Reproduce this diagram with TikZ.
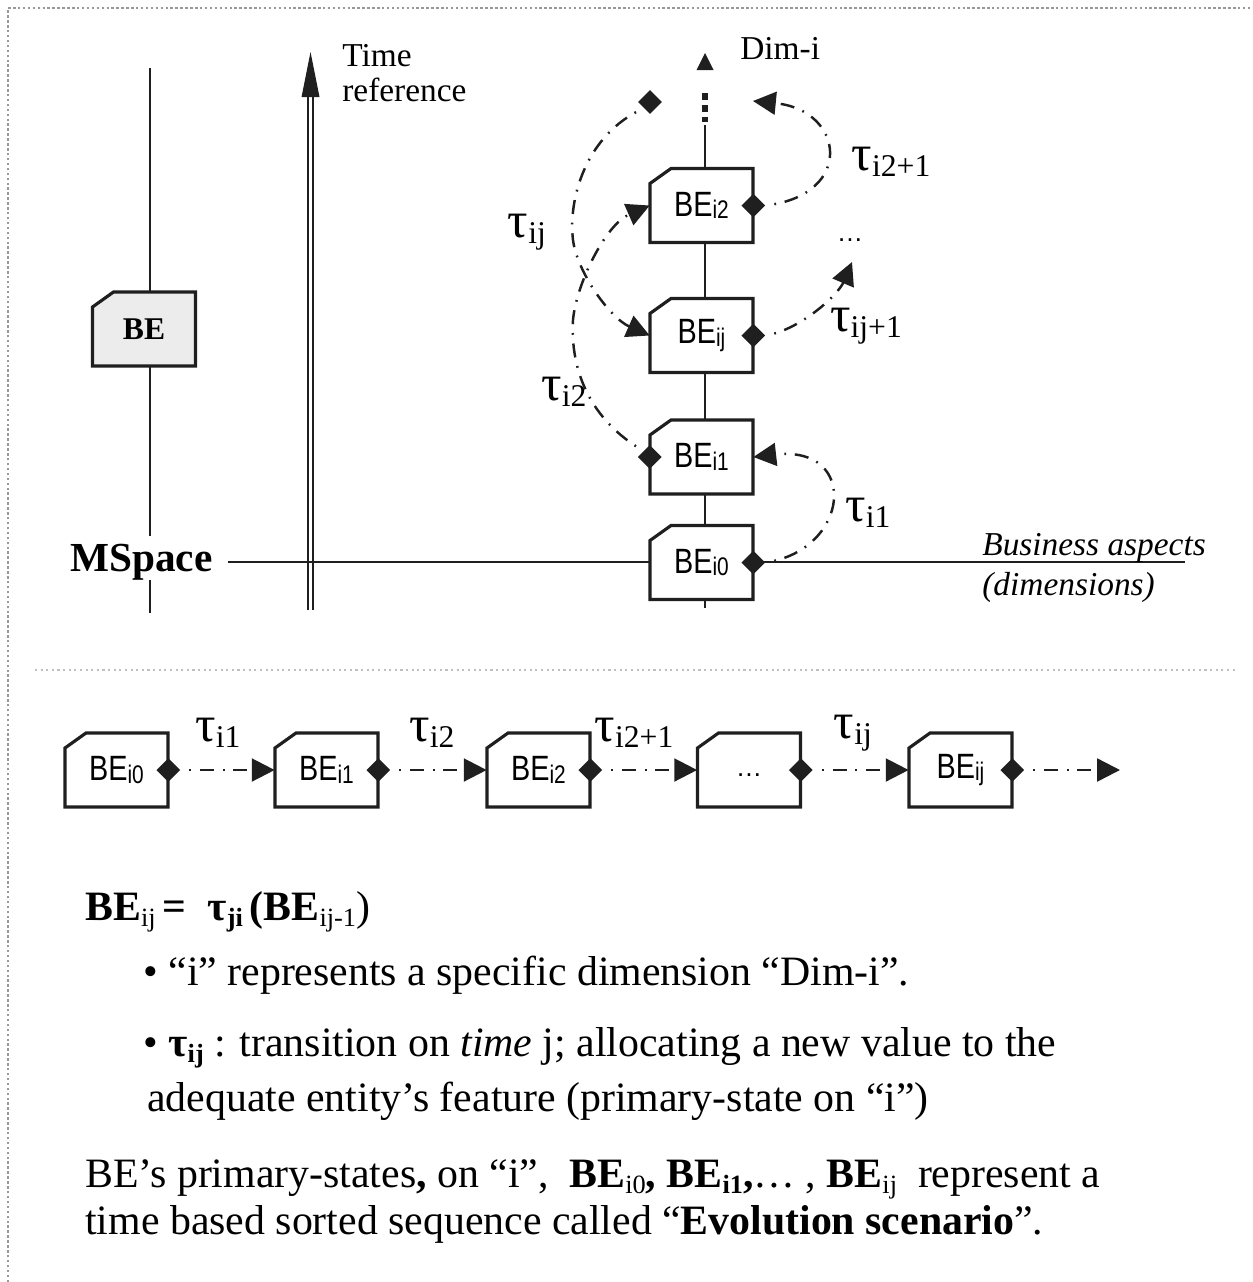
\documentclass[tikz,border=0pt]{standalone}
\usepackage{fontspec}
\usepackage{graphicx}
\setmainfont{Liberation Serif}
\newfontfamily\befont{Liberation Sans}
\usetikzlibrary{arrows.meta,shapes.geometric,calc}
\definecolor{framegray}{gray}{0.6}
\definecolor{sepgray}{gray}{0.75}
\definecolor{befill}{gray}{0.925}
\definecolor{ink}{gray}{0.12}
\newcommand\bl[1]{\scalebox{0.82}[1]{\befont\fontsize{20}{20}\selectfont BE\raisebox{-1.5pt}{\fontsize{14.5}{14.5}\selectfont #1}}}
\newcommand\tl[1]{\fontsize{29}{29}\selectfont τ\raisebox{-3.5pt}{\fontsize{18}{18}\selectfont #1}}
\newcommand\ts[1]{\raisebox{-3.5pt}{\fontsize{15}{15}\selectfont #1}}
\newcommand\mkbox[4]{%
  \filldraw[boxline,fill=#4] ($#2+(-51.5,37)$) -- ($#2+(-51.5,-22)$) -- ($#2+(-30.5,-37)$) -- ($#2+(51.5,-37)$) -- ($#2+(51.5,37)$) -- cycle;
  \node[benode] (#1) at #2 {#3};}
\tikzset{
  axis/.style={line width=1.5pt, draw=ink},
  boxline/.style={line width=1.8pt, draw=ink, line join=miter},
  benode/.style={inner sep=0pt, minimum width=2.06cm, minimum height=1.48cm},
  dmd/.style={diamond, fill=ink, inner sep=0pt, minimum width=0.48cm, minimum height=0.48cm},
  tarrow/.style={line width=1.4pt, draw=ink, dash pattern=on 1pt off 5pt on 8pt off 5pt, dash phase=14pt, -{Triangle[length=13pt,width=13pt]}},
  lbl/.style={inner sep=0pt, font=\fontsize{19}{22}\selectfont},
  taul/.style={inner sep=0pt},
  txt/.style={anchor=base west, inner sep=0pt, font=\fontsize{23.8}{28}\selectfont},
}
\begin{document}
\begin{tikzpicture}[x=0.02cm,y=-0.02cm]
\useasboundingbox (0,0) rectangle (1253,1282);
% frame and separator
\draw[framegray, line width=1.4pt, dash pattern=on 1.4pt off 1.4pt] (8,1282) -- (8,8) -- (1253,8);
\draw[sepgray, line width=1.2pt, dash pattern=on 1.2pt off 2pt] (35,670) -- (1237,670);

% axes
\draw[axis] (150,68) -- (150,536);
\draw[axis] (150,580) -- (150,613);
\draw[axis] (228,562) -- (1185,562);
\draw[ink, line width=1.1pt] (308,610) -- (308,94);
\draw[ink, line width=1.1pt] (313,610) -- (313,94);
\fill[ink] (301.5,97) -- (310.5,52) -- (319.5,97) -- cycle;
\draw[axis] (705,608) -- (705,125);
\draw[ink, line width=3.8pt, dash pattern=on 4pt off 2.8pt] (705,93) -- (705,122);
\fill[ink] (696.5,70) -- (705,53) -- (713.5,70) -- cycle;

% texts top
\node[lbl, anchor=base west] (time) at (342,66) {Time};
\node[lbl, anchor=base west] (tref) at (342,101) {reference};
\node[lbl, anchor=base west] (dimi) at (740,59) {Dim-i};
\node[inner sep=0pt, anchor=base west, font=\fontsize{23.5}{26}\selectfont\bfseries] (mspace) at (70,571) {MSpace};
\node[lbl, anchor=base west, font=\fontsize{19}{22}\selectfont\itshape] (bus) at (982,555) {Business aspects};
\node[lbl, anchor=base west, font=\fontsize{19}{22}\selectfont\itshape] (dims) at (982,595) {(dimensions)};

% boxes
\mkbox{be}{(144,329)}{\fontsize{18}{18}\selectfont\bfseries BE}{befill}
\mkbox{b0}{(701.5,562.5)}{\bl{i0}}{white}
\mkbox{b1}{(701.5,457)}{\bl{i1}}{white}
\mkbox{bij}{(701.5,335.5)}{\bl{ij}}{white}
\mkbox{b2}{(701.5,205.5)}{\bl{i2}}{white}

\node[dmd] (d0) at (b0.east) {};
\node[dmd] (d1) at (b1.west) {};
\node[dmd] (dij) at (bij.east) {};
\node[dmd] (d2) at (b2.east) {};
\node[dmd] (dfree) at (650,102) {};
\coordinate (t2top) at (753,101);
\coordinate (ijtop) at (852,262);

\draw[tarrow] (d0.east) .. controls (850,550) and (860,445) .. (b1.east);
\draw[tarrow] (d1.north west) .. controls (590,420) and (570,370) .. (573,320) .. controls (576,285) and (605,225) .. (b2.west);
\draw[tarrow] (dfree.south west) .. controls (585,135) and (568,200) .. (573,240) .. controls (577,272) and (610,318) .. (bij.west);
\draw[tarrow] (d2.east) .. controls (855,195) and (845,110) .. (t2top);
\draw[tarrow] (dij.east) .. controls (800,330) and (838,295) .. (ijtop);

\node[taul] (l1) at (868,513) {\tl{i1}};
\node[taul] (l2) at (564,392) {\tl{i2}};
\node[taul] (lij) at (527,232) {\tl{ij}};
\node[taul] (l21) at (891,162) {\tl{i2+1}};
\node[taul] (lij1) at (866,326) {\tl{ij+1}};
\node[inner sep=0pt, font=\befont\fontsize{15}{15}\selectfont] (dots) at (850,240) {…};

% chain
\mkbox{c0}{(116.5,770)}{\bl{i0}}{white}
\mkbox{c1}{(326.5,770)}{\bl{i1}}{white}
\mkbox{c2}{(538.5,770)}{\bl{i2}}{white}
\mkbox{c3}{(749,770)}{}{white}
\mkbox{c4}{(960.5,770)}{\bl{ij}}{white}
\node[inner sep=0pt, font=\befont\fontsize{15}{15}\selectfont] (c3dots) at (749,775) {…};
\node[dmd] (e0) at (c0.east) {};
\node[dmd] (e1) at (c1.east) {};
\node[dmd] (e2) at (c2.east) {};
\node[dmd] (e3) at (c3.east) {};
\node[dmd] (e4) at (c4.east) {};
\coordinate (cend) at (1120,770);
\draw[tarrow] (e0.east) -- (c1.west);
\draw[tarrow] (e1.east) -- (c2.west);
\draw[tarrow] (e2.east) -- (c3.west);
\draw[tarrow] (e3.east) -- (c4.west);
\draw[tarrow] (e4.east) -- (cend);
\node[taul] (m1) at (218,733) {\tl{i1}};
\node[taul] (m2) at (432,733) {\tl{i2}};
\node[taul] (m3) at (634,733) {\tl{i2+1}};
\node[taul] (m4) at (853,733) {\tl{ij}};

% text block
\node[txt] (ta) at (85,920) {{\bfseries BE}\ts{ij}\,{\bfseries =\ \ τ\ts{ji}\,(BE}\ts{ij-1})};
\node[txt] (tb) at (143,985) {•\ “i” represents a specific dimension “Dim-i”.};
\node[txt] (tc) at (143,1056) {•\ {\bfseries τ\ts{ij}} : transition on \textit{time} j; allocating a new value to the};
\node[txt] (td) at (147,1111) {adequate entity’s feature (primary-state on “i”)};
\node[txt] (te) at (85,1187) {BE’s primary-states{\bfseries ,} on “i”,\ \ {\bfseries BE}\ts{i0}{\bfseries ,} {\bfseries BE\ts{i1},}… , {\bfseries BE}\ts{ij}\ \ represent a};
\node[txt] (tf) at (85,1234) {time based sorted sequence called “{\bfseries Evolution scenario}”.};
\end{tikzpicture}
\end{document}
